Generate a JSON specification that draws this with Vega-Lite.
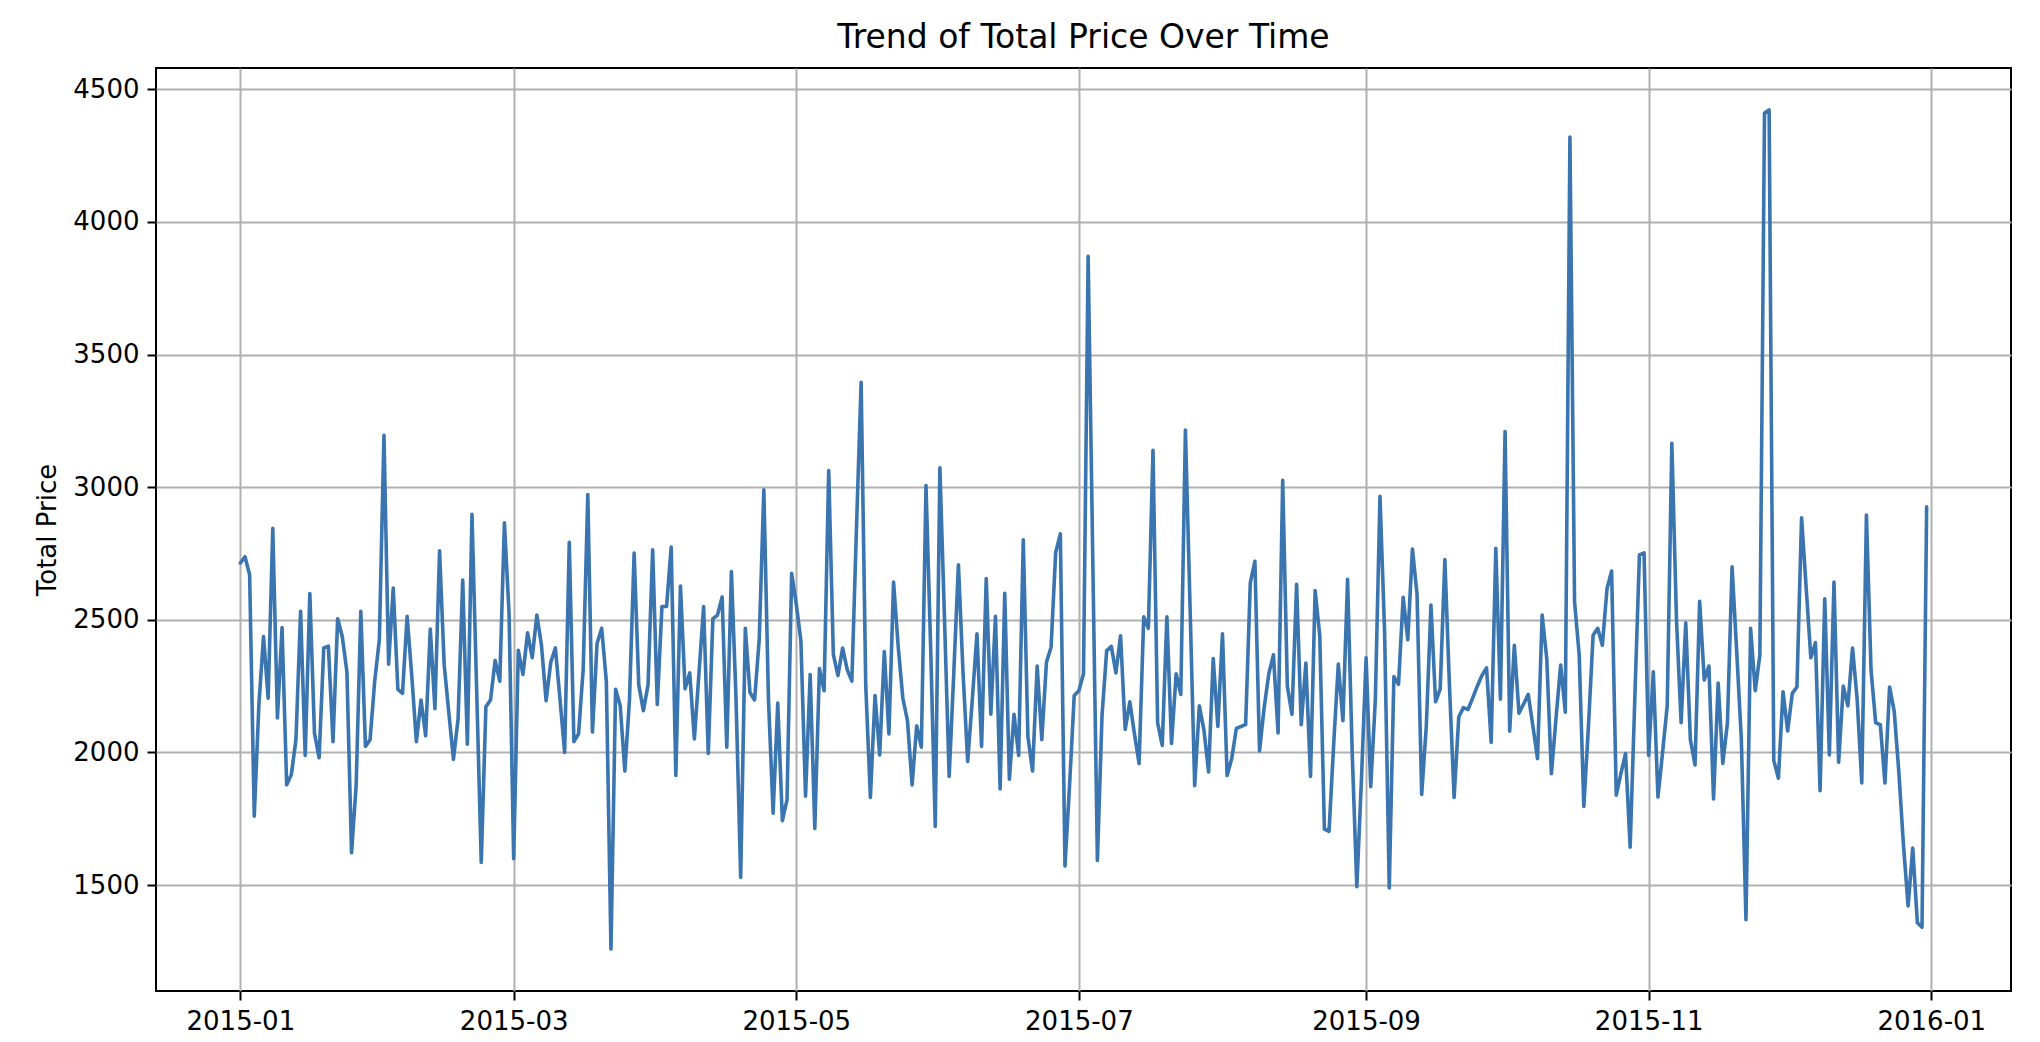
{
  "$schema": "https://vega.github.io/schema/vega-lite/v6.json",
  "autosize": {"type": "none"},
  "padding": {"left": 156, "top": 68, "right": 29, "bottom": 51},
  "width": 1855,
  "height": 923,
  "background": "#ffffff",
  "title": {"text": "Trend of Total Price Over Time", "fontSize": 33, "font": "DejaVu Sans", "fontWeight": "normal", "color": "#000000", "anchor": "middle", "baseline": "alphabetic", "offset": 16, "dy": 29},
  "data": {"values": [
    {"d":"2015-01-01","v":2714},{"d":"2015-01-02","v":2738},{"d":"2015-01-03","v":2670},{"d":"2015-01-04","v":1760},{"d":"2015-01-05","v":2180},{"d":"2015-01-06","v":2437},{"d":"2015-01-07","v":2205},{"d":"2015-01-08","v":2845},{"d":"2015-01-09","v":2130},{"d":"2015-01-10","v":2471},{"d":"2015-01-11","v":1878},{"d":"2015-01-12","v":1916},{"d":"2015-01-13","v":2048},{"d":"2015-01-14","v":2532},{"d":"2015-01-15","v":1989},{"d":"2015-01-16","v":2599},{"d":"2015-01-17","v":2073},{"d":"2015-01-18","v":1980},{"d":"2015-01-19","v":2394},{"d":"2015-01-20","v":2401},{"d":"2015-01-21","v":2041},{"d":"2015-01-22","v":2504},{"d":"2015-01-23","v":2437},{"d":"2015-01-24","v":2304},{"d":"2015-01-25","v":1622},{"d":"2015-01-26","v":1878},{"d":"2015-01-27","v":2532},{"d":"2015-01-28","v":2023},{"d":"2015-01-29","v":2048},{"d":"2015-01-30","v":2269},{"d":"2015-01-31","v":2425},
    {"d":"2015-02-01","v":3196},{"d":"2015-02-02","v":2333},{"d":"2015-02-03","v":2620},{"d":"2015-02-04","v":2238},{"d":"2015-02-05","v":2223},{"d":"2015-02-06","v":2513},{"d":"2015-02-07","v":2290},{"d":"2015-02-08","v":2041},{"d":"2015-02-09","v":2198},{"d":"2015-02-10","v":2063},{"d":"2015-02-11","v":2465},{"d":"2015-02-12","v":2165},{"d":"2015-02-13","v":2760},{"d":"2015-02-14","v":2330},{"d":"2015-02-15","v":2150},{"d":"2015-02-16","v":1974},{"d":"2015-02-17","v":2127},{"d":"2015-02-18","v":2650},{"d":"2015-02-19","v":2031},{"d":"2015-02-20","v":2898},{"d":"2015-02-21","v":2240},{"d":"2015-02-22","v":1586},{"d":"2015-02-23","v":2172},{"d":"2015-02-24","v":2198},{"d":"2015-02-25","v":2347},{"d":"2015-02-26","v":2269},{"d":"2015-02-27","v":2866},{"d":"2015-02-28","v":2525},
    {"d":"2015-03-01","v":1600},{"d":"2015-03-02","v":2385},{"d":"2015-03-03","v":2294},{"d":"2015-03-04","v":2451},{"d":"2015-03-05","v":2357},{"d":"2015-03-06","v":2518},{"d":"2015-03-07","v":2404},{"d":"2015-03-08","v":2195},{"d":"2015-03-09","v":2340},{"d":"2015-03-10","v":2394},{"d":"2015-03-11","v":2200},{"d":"2015-03-12","v":2000},{"d":"2015-03-13","v":2792},{"d":"2015-03-14","v":2041},{"d":"2015-03-15","v":2070},{"d":"2015-03-16","v":2312},{"d":"2015-03-17","v":2972},{"d":"2015-03-18","v":2077},{"d":"2015-03-19","v":2411},{"d":"2015-03-20","v":2468},{"d":"2015-03-21","v":2269},{"d":"2015-03-22","v":1259},{"d":"2015-03-23","v":2238},{"d":"2015-03-24","v":2176},{"d":"2015-03-25","v":1930},{"d":"2015-03-26","v":2200},{"d":"2015-03-27","v":2752},{"d":"2015-03-28","v":2255},{"d":"2015-03-29","v":2158},{"d":"2015-03-30","v":2255},{"d":"2015-03-31","v":2764},
    {"d":"2015-04-01","v":2181},{"d":"2015-04-02","v":2550},{"d":"2015-04-03","v":2550},{"d":"2015-04-04","v":2774},{"d":"2015-04-05","v":1913},{"d":"2015-04-06","v":2627},{"d":"2015-04-07","v":2240},{"d":"2015-04-08","v":2300},{"d":"2015-04-09","v":2051},{"d":"2015-04-10","v":2300},{"d":"2015-04-11","v":2550},{"d":"2015-04-12","v":1996},{"d":"2015-04-13","v":2504},{"d":"2015-04-14","v":2518},{"d":"2015-04-15","v":2586},{"d":"2015-04-16","v":2020},{"d":"2015-04-17","v":2682},{"d":"2015-04-18","v":2200},{"d":"2015-04-19","v":1529},{"d":"2015-04-20","v":2468},{"d":"2015-04-21","v":2226},{"d":"2015-04-22","v":2198},{"d":"2015-04-23","v":2425},{"d":"2015-04-24","v":2990},{"d":"2015-04-25","v":2200},{"d":"2015-04-26","v":1771},{"d":"2015-04-27","v":2186},{"d":"2015-04-28","v":1743},{"d":"2015-04-29","v":1821},{"d":"2015-04-30","v":2675},
    {"d":"2015-05-01","v":2560},{"d":"2015-05-02","v":2420},{"d":"2015-05-03","v":1835},{"d":"2015-05-04","v":2294},{"d":"2015-05-05","v":1714},{"d":"2015-05-06","v":2316},{"d":"2015-05-07","v":2233},{"d":"2015-05-08","v":3063},{"d":"2015-05-09","v":2370},{"d":"2015-05-10","v":2290},{"d":"2015-05-11","v":2394},{"d":"2015-05-12","v":2312},{"d":"2015-05-13","v":2269},{"d":"2015-05-14","v":2850},{"d":"2015-05-15","v":3395},{"d":"2015-05-16","v":2250},{"d":"2015-05-17","v":1831},{"d":"2015-05-18","v":2215},{"d":"2015-05-19","v":1991},{"d":"2015-05-20","v":2380},{"d":"2015-05-21","v":2070},{"d":"2015-05-22","v":2642},{"d":"2015-05-23","v":2400},{"d":"2015-05-24","v":2205},{"d":"2015-05-25","v":2120},{"d":"2015-05-26","v":1878},{"d":"2015-05-27","v":2101},{"d":"2015-05-28","v":2020},{"d":"2015-05-29","v":3006},{"d":"2015-05-30","v":2400},{"d":"2015-05-31","v":1721},
    {"d":"2015-06-01","v":3073},{"d":"2015-06-02","v":2500},{"d":"2015-06-03","v":1910},{"d":"2015-06-04","v":2300},{"d":"2015-06-05","v":2707},{"d":"2015-06-06","v":2300},{"d":"2015-06-07","v":1966},{"d":"2015-06-08","v":2200},{"d":"2015-06-09","v":2447},{"d":"2015-06-10","v":2023},{"d":"2015-06-11","v":2656},{"d":"2015-06-12","v":2144},{"d":"2015-06-13","v":2513},{"d":"2015-06-14","v":1863},{"d":"2015-06-15","v":2600},{"d":"2015-06-16","v":1899},{"d":"2015-06-17","v":2144},{"d":"2015-06-18","v":1989},{"d":"2015-06-19","v":2802},{"d":"2015-06-20","v":2060},{"d":"2015-06-21","v":1930},{"d":"2015-06-22","v":2326},{"d":"2015-06-23","v":2048},{"d":"2015-06-24","v":2340},{"d":"2015-06-25","v":2397},{"d":"2015-06-26","v":2755},{"d":"2015-06-27","v":2824},{"d":"2015-06-28","v":1572},{"d":"2015-06-29","v":1880},{"d":"2015-06-30","v":2215},
    {"d":"2015-07-01","v":2233},{"d":"2015-07-02","v":2297},{"d":"2015-07-03","v":3870},{"d":"2015-07-05","v":1593},{"d":"2015-07-06","v":2140},{"d":"2015-07-07","v":2383},{"d":"2015-07-08","v":2400},{"d":"2015-07-09","v":2300},{"d":"2015-07-10","v":2440},{"d":"2015-07-11","v":2087},{"d":"2015-07-12","v":2191},{"d":"2015-07-13","v":2070},{"d":"2015-07-14","v":1959},{"d":"2015-07-15","v":2511},{"d":"2015-07-16","v":2468},{"d":"2015-07-17","v":3139},{"d":"2015-07-18","v":2112},{"d":"2015-07-19","v":2027},{"d":"2015-07-20","v":2511},{"d":"2015-07-21","v":2034},{"d":"2015-07-22","v":2297},{"d":"2015-07-23","v":2219},{"d":"2015-07-24","v":3215},{"d":"2015-07-25","v":2550},{"d":"2015-07-26","v":1875},{"d":"2015-07-27","v":2176},{"d":"2015-07-28","v":2084},{"d":"2015-07-29","v":1927},{"d":"2015-07-30","v":2354},{"d":"2015-07-31","v":2098},
    {"d":"2015-08-01","v":2447},{"d":"2015-08-02","v":1913},{"d":"2015-08-03","v":1977},{"d":"2015-08-04","v":2091},{"d":"2015-08-05","v":2098},{"d":"2015-08-06","v":2105},{"d":"2015-08-07","v":2639},{"d":"2015-08-08","v":2721},{"d":"2015-08-09","v":2006},{"d":"2015-08-10","v":2170},{"d":"2015-08-11","v":2297},{"d":"2015-08-12","v":2368},{"d":"2015-08-13","v":2074},{"d":"2015-08-14","v":3026},{"d":"2015-08-15","v":2250},{"d":"2015-08-16","v":2144},{"d":"2015-08-17","v":2634},{"d":"2015-08-18","v":2105},{"d":"2015-08-19","v":2337},{"d":"2015-08-20","v":1910},{"d":"2015-08-21","v":2610},{"d":"2015-08-22","v":2440},{"d":"2015-08-23","v":1711},{"d":"2015-08-24","v":1703},{"d":"2015-08-25","v":2030},{"d":"2015-08-26","v":2333},{"d":"2015-08-27","v":2120},{"d":"2015-08-28","v":2653},{"d":"2015-08-29","v":2000},{"d":"2015-08-30","v":1494},{"d":"2015-08-31","v":1900},
    {"d":"2015-09-01","v":2357},{"d":"2015-09-02","v":1871},{"d":"2015-09-03","v":2200},{"d":"2015-09-04","v":2966},{"d":"2015-09-05","v":2450},{"d":"2015-09-06","v":1489},{"d":"2015-09-07","v":2286},{"d":"2015-09-08","v":2257},{"d":"2015-09-09","v":2585},{"d":"2015-09-10","v":2425},{"d":"2015-09-11","v":2767},{"d":"2015-09-12","v":2596},{"d":"2015-09-13","v":1842},{"d":"2015-09-14","v":2100},{"d":"2015-09-15","v":2556},{"d":"2015-09-16","v":2191},{"d":"2015-09-17","v":2240},{"d":"2015-09-18","v":2727},{"d":"2015-09-19","v":2250},{"d":"2015-09-20","v":1831},{"d":"2015-09-21","v":2134},{"d":"2015-09-22","v":2169},{"d":"2015-09-23","v":2162},{"d":"2015-09-24","v":2205},{"d":"2015-09-25","v":2250},{"d":"2015-09-26","v":2290},{"d":"2015-09-27","v":2319},{"d":"2015-09-28","v":2038},{"d":"2015-09-29","v":2770},{"d":"2015-09-30","v":2201},
    {"d":"2015-10-01","v":3210},{"d":"2015-10-02","v":2080},{"d":"2015-10-03","v":2404},{"d":"2015-10-04","v":2148},{"d":"2015-10-05","v":2183},{"d":"2015-10-06","v":2219},{"d":"2015-10-07","v":2100},{"d":"2015-10-08","v":1977},{"d":"2015-10-09","v":2518},{"d":"2015-10-10","v":2354},{"d":"2015-10-11","v":1920},{"d":"2015-10-12","v":2130},{"d":"2015-10-13","v":2330},{"d":"2015-10-14","v":2152},{"d":"2015-10-15","v":4320},{"d":"2015-10-16","v":2568},{"d":"2015-10-17","v":2368},{"d":"2015-10-18","v":1797},{"d":"2015-10-19","v":2100},{"d":"2015-10-20","v":2442},{"d":"2015-10-21","v":2468},{"d":"2015-10-22","v":2404},{"d":"2015-10-23","v":2617},{"d":"2015-10-24","v":2684},{"d":"2015-10-25","v":1839},{"d":"2015-10-26","v":1920},{"d":"2015-10-27","v":1996},{"d":"2015-10-28","v":1643},{"d":"2015-10-29","v":2200},{"d":"2015-10-30","v":2745},{"d":"2015-10-31","v":2752},
    {"d":"2015-11-01","v":1989},{"d":"2015-11-02","v":2304},{"d":"2015-11-03","v":1832},{"d":"2015-11-04","v":2000},{"d":"2015-11-05","v":2176},{"d":"2015-11-06","v":3165},{"d":"2015-11-07","v":2500},{"d":"2015-11-08","v":2112},{"d":"2015-11-09","v":2489},{"d":"2015-11-10","v":2048},{"d":"2015-11-11","v":1953},{"d":"2015-11-12","v":2570},{"d":"2015-11-13","v":2273},{"d":"2015-11-14","v":2326},{"d":"2015-11-15","v":1825},{"d":"2015-11-16","v":2262},{"d":"2015-11-17","v":1959},{"d":"2015-11-18","v":2112},{"d":"2015-11-19","v":2700},{"d":"2015-11-20","v":2380},{"d":"2015-11-21","v":2050},{"d":"2015-11-22","v":1370},{"d":"2015-11-23","v":2468},{"d":"2015-11-24","v":2233},{"d":"2015-11-25","v":2368},{"d":"2015-11-26","v":4410},{"d":"2015-11-27","v":4422},{"d":"2015-11-28","v":1970},{"d":"2015-11-29","v":1903},{"d":"2015-11-30","v":2229},
    {"d":"2015-12-01","v":2081},{"d":"2015-12-02","v":2223},{"d":"2015-12-03","v":2247},{"d":"2015-12-04","v":2885},{"d":"2015-12-05","v":2620},{"d":"2015-12-06","v":2357},{"d":"2015-12-07","v":2414},{"d":"2015-12-08","v":1856},{"d":"2015-12-09","v":2579},{"d":"2015-12-10","v":1991},{"d":"2015-12-11","v":2642},{"d":"2015-12-12","v":1963},{"d":"2015-12-13","v":2250},{"d":"2015-12-14","v":2176},{"d":"2015-12-15","v":2394},{"d":"2015-12-16","v":2200},{"d":"2015-12-17","v":1885},{"d":"2015-12-18","v":2895},{"d":"2015-12-19","v":2310},{"d":"2015-12-20","v":2112},{"d":"2015-12-21","v":2105},{"d":"2015-12-22","v":1885},{"d":"2015-12-23","v":2247},{"d":"2015-12-24","v":2155},{"d":"2015-12-25","v":1925},{"d":"2015-12-26","v":1650},{"d":"2015-12-27","v":1422},{"d":"2015-12-28","v":1640},{"d":"2015-12-29","v":1358},{"d":"2015-12-30","v":1341},{"d":"2015-12-31","v":2926}
  ]},
  "mark": {"type": "line", "color": "#3a75b0", "strokeWidth": 3.6, "strokeJoin": "round", "strokeCap": "round"},
  "encoding": {
    "x": {
      "field": "d", "type": "temporal",
      "scale": {"type": "utc", "domain": [{"year": 2014, "month": 12, "date": 13, "hours": 19, "utc": true}, {"year": 2016, "month": 1, "date": 18, "hours": 5, "utc": true}], "nice": false},
      "axis": {
        "title": null, "format": "%Y-%m",
        "values": [{"year": 2015, "month": 1, "date": 1, "utc": true}, {"year": 2015, "month": 3, "date": 1, "utc": true}, {"year": 2015, "month": 5, "date": 1, "utc": true}, {"year": 2015, "month": 7, "date": 1, "utc": true}, {"year": 2015, "month": 9, "date": 1, "utc": true}, {"year": 2015, "month": 11, "date": 1, "utc": true}, {"year": 2016, "month": 1, "date": 1, "utc": true}],
        "labelPadding": 8, "labelFlush": false, "labelOverlap": false
      }
    },
    "y": {
      "field": "v", "type": "quantitative",
      "scale": {"domain": [1101, 4580], "nice": false, "zero": false},
      "axis": {"title": "Total Price", "values": [1500, 2000, 2500, 3000, 3500, 4000, 4500], "format": "d", "labelPadding": 8, "titlePadding": 12}
    }
  },
  "config": {
    "font": "DejaVu Sans",
    "view": {"stroke": "#000000", "strokeWidth": 2},
    "axis": {
      "domain": false,
      "grid": true, "gridColor": "#b0b0b0", "gridWidth": 2, "gridOpacity": 1,
      "ticks": true, "tickColor": "#000000", "tickWidth": 2, "tickSize": 9,
      "labelFont": "DejaVu Sans", "labelFontSize": 26, "labelColor": "#000000",
      "titleFont": "DejaVu Sans", "titleFontSize": 26, "titleFontWeight": "normal", "titleColor": "#000000"
    }
  }
}
